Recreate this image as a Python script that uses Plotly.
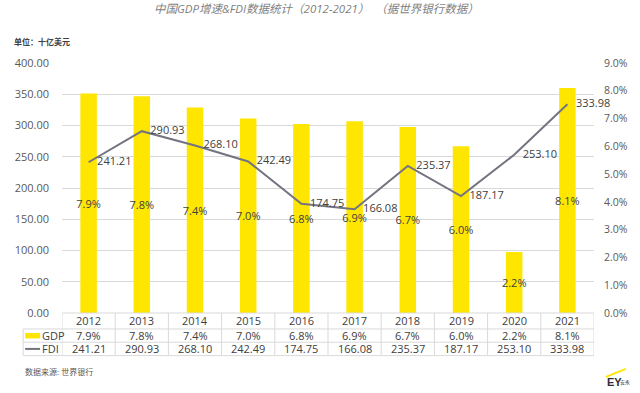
import plotly.graph_objects as go

years = ["2012", "2013", "2014", "2015", "2016", "2017", "2018", "2019", "2020", "2021"]
gdp_growth = [7.9, 7.8, 7.4, 7.0, 6.8, 6.9, 6.7, 6.0, 2.2, 8.1]
fdi = [241.21, 290.93, 268.10, 242.49, 174.75, 166.08, 235.37, 187.17, 253.10, 333.98]

title_text = "中国GDP增速&FDI数据统计（2012-2021）  （据世界银行数据）"
unit_text = "单位：十亿美元"
source_text = "数据来源: 世界银行"

W, H = 640, 393
L, R, T, B = 62, 44, 62.5, 80
plot_h = H - T - B
plot_w = W - L - R

def py(pix):
    return (H - B - pix) / plot_h

def px(pix):
    return (pix - L) / plot_w

FONT = "Open Sans, Noto Sans CJK SC, sans-serif"
YELLOW = "#FFE600"
LINEC = "#747480"
GRID = "#d9d9d9"
TXT = "#595959"
DTXT = "#404040"

fig = go.Figure()
fig.add_trace(go.Bar(
    x=years, y=gdp_growth, name="GDP", yaxis="y",
    marker=dict(color=YELLOW, line=dict(width=0)), width=0.31,
    text=[f"{v:.1f}%" for v in gdp_growth], textposition="inside",
    insidetextanchor="middle", constraintext="none", textangle=0,
    textfont=dict(color=DTXT, size=11, family=FONT), cliponaxis=False,
    hoverinfo="skip", showlegend=False,
))
fig.add_trace(go.Scatter(
    x=years, y=fdi, name="FDI", yaxis="y2", mode="lines+markers+text",
    line=dict(color=LINEC, width=2),
    marker=dict(size=12, color="rgba(0,0,0,0)"),
    text=[f"{v:.2f}" for v in fdi], textposition="middle right",
    textfont=dict(color=DTXT, size=11, family=FONT), cliponaxis=False,
    hoverinfo="skip", showlegend=False,
))

ann = []
shapes = []
# title and unit
ann.append(dict(text="<i>" + title_text + "</i>", x=px(152), y=py(8), xref="paper", yref="paper",
                xanchor="left", yanchor="middle", showarrow=False,
                font=dict(size=11.5, color="#7f7f7f", family=FONT)))
ann.append(dict(text="<b>" + unit_text + "</b>", x=px(12), y=py(41), xref="paper", yref="paper",
                xanchor="left", yanchor="middle", showarrow=False,
                font=dict(size=8, color="#404040", family=FONT)))
ann.append(dict(text=source_text, x=px(23), y=py(372), xref="paper", yref="paper",
                xanchor="left", yanchor="middle", showarrow=False,
                font=dict(size=8, color=TXT, family=FONT)))

# data table
row_hdr, row_gdp, row_fdi = py(321), py(335.7), py(349)
for i, yr in enumerate(years):
    ann.append(dict(text=yr, x=i, y=row_hdr, xref="x", yref="paper", showarrow=False,
                    yanchor="middle", font=dict(size=11, color=DTXT, family=FONT)))
    ann.append(dict(text=f"{gdp_growth[i]:.1f}%", x=i, y=row_gdp, xref="x", yref="paper",
                    showarrow=False, yanchor="middle", font=dict(size=11, color=DTXT, family=FONT)))
    ann.append(dict(text=f"{fdi[i]:.2f}", x=i, y=row_fdi, xref="x", yref="paper",
                    showarrow=False, yanchor="middle", font=dict(size=11, color=DTXT, family=FONT)))
ann.append(dict(text="GDP", x=px(40), y=row_gdp, xref="paper", yref="paper", xanchor="left",
                yanchor="middle", showarrow=False, font=dict(size=11, color=DTXT, family=FONT)))
ann.append(dict(text="FDI", x=px(40), y=row_fdi, xref="paper", yref="paper", xanchor="left",
                yanchor="middle", showarrow=False, font=dict(size=11, color=DTXT, family=FONT)))
# legend keys
shapes.append(dict(type="rect", xref="paper", yref="paper", x0=px(25), x1=px(40),
                   y0=py(338.5), y1=py(333), fillcolor=YELLOW, line=dict(width=0)))
shapes.append(dict(type="line", xref="paper", yref="paper", x0=px(25), x1=px(40),
                   y0=row_fdi, y1=row_fdi, line=dict(color=LINEC, width=2)))
# table grid
lw = dict(color=GRID, width=1)
shapes.append(dict(type="line", xref="paper", yref="paper", x0=0, x1=1, y0=py(313), y1=py(313), line=lw))
for yy in (329, 342.3, 355.7):
    shapes.append(dict(type="line", xref="paper", yref="paper", x0=px(23), x1=1, y0=py(yy), y1=py(yy), line=lw))
shapes.append(dict(type="line", xref="paper", yref="paper", x0=px(23), x1=px(23), y0=py(329), y1=py(355.7), line=lw))
for i in range(len(years) + 1):
    shapes.append(dict(type="line", xref="x", yref="paper", x0=i - 0.5, x1=i - 0.5,
                       y0=py(313), y1=py(355.7), line=lw))

# EY logo (approximate)
shapes.append(dict(type="line", xref="paper", yref="paper", x0=px(608), x1=px(628),
                   y0=py(377), y1=py(369), line=dict(color=YELLOW, width=2)))
ann.append(dict(text="<b>EY</b>", x=px(607), y=py(382), xref="paper", yref="paper",
                xanchor="left", yanchor="middle", showarrow=False,
                font=dict(size=11, color="#2e2e38", family="Liberation Sans, Arial")))
ann.append(dict(text="安永", x=px(620), y=py(383), xref="paper", yref="paper",
                xanchor="left", yanchor="middle", showarrow=False,
                font=dict(size=5, color="#2e2e38", family=FONT)))

fig.update_layout(
    width=W, height=H,
    margin=dict(l=L, r=R, t=T, b=B, pad=0),
    paper_bgcolor="white", plot_bgcolor="white",
    xaxis=dict(type="category", showticklabels=False, showgrid=False, zeroline=False,
               showline=False, ticks="", range=[-0.5, 9.5]),
    yaxis=dict(side="right", range=[0, 9], dtick=1, tickformat=".1f", ticksuffix="%",
               showgrid=False, zeroline=False, showline=False, ticks="",
               tickfont=dict(size=10.5, color=TXT, family=FONT), ticklabelstandoff=9),
    yaxis2=dict(side="left", overlaying="y", range=[0, 400], dtick=50, tickformat=".2f",
                showgrid=True, gridcolor=GRID, gridwidth=1, zeroline=False, showline=False,
                ticks="", tickfont=dict(size=11, color=TXT, family=FONT), ticklabelstandoff=12),
    annotations=ann, shapes=shapes,
    showlegend=False,
)

fig.write_html("out.html", config={"displayModeBar": False},
               post_script="document.body.style.margin='0';")
